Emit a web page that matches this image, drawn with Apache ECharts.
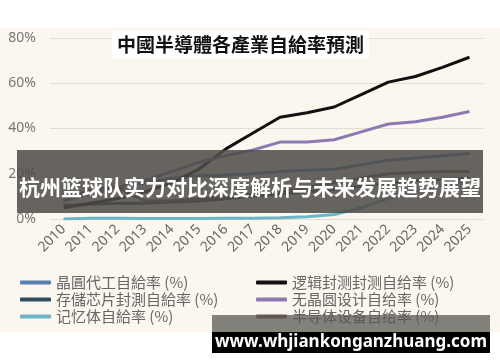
<!DOCTYPE html>
<html><head><meta charset="utf-8">
<script src="https://cdn.jsdelivr.net/npm/echarts@6/dist/echarts.min.js"></script>
<style>
html,body{margin:0;padding:0;background:#fff;}
#c{width:500px;height:362px;background:linear-gradient(to bottom,#fff 0,#fff 28px,#fbf7ef 28px,#fbf7ef 332px,#fff 332px);}
</style></head><body>
<div id="c"></div>
<script>
const years = ['2010','2011','2012','2013','2014','2015','2016','2017','2018','2019','2020','2021','2022','2023','2024','2025'];
const yTicks = [0, 20, 40, 60, 80];
const titleText = '中國半導體各產業自給率預測';
const bannerText = '杭州篮球队实力对比深度解析与未来发展趋势展望';
const watermarkText = 'www.whjiankonganzhuang.com';

const foundryName = '晶圓代工自給率 (%)';
const storagePkgName = '存儲芯片封測自給率 (%)';
const memoryName = '记忆体自給率 (%)';
const logicPkgName = '逻辑封测封测自给率 (%)';
const fablessName = '无晶圆设计自给率 (%)';
const equipName = '半导体设备自给率 (%)';

const foundry    = [10, 12, 14, 16, 18, 19, 19.5, 20, 21, 21.5, 22, 24, 26, 27, 28, 29];
const storagePkg = [6, 6.5, 7, 7, 7.5, 8, 9, 10, 11, 12, 13, 14.5, 16, 17, 17.5, 18];
const memory     = [0, 0.3, 0.3, 0.2, 0.2, 0.2, 0.3, 0.3, 0.5, 1, 2, 5, 9, 12, 15, 17];
const logicPkg   = [5, 7, 9, 12, 16, 22, 31, 38, 45, 47, 49.5, 55, 60.5, 63, 67, 71.5];
const fabless    = [8, 11, 14, 17, 21, 25, 28, 30.5, 34, 34, 35, 38.5, 42, 43, 45, 47.5];
const equipment  = [8, 13, 14, 8, 8, 9, 10, 11, 12, 14, 16, 18, 20, 20.5, 21, 21];

const colors = {
  foundry: '#5a7fae', storagePkg: '#2f4b5c', memory: '#6cb4c7',
  logicPkg: '#111111', fabless: '#8c7ab3', equipment: '#6f5a45'
};

function mk(name, data, color) {
  return { name, type: 'line', data, symbol: 'none', smooth: false,
    lineStyle: { width: 3, color }, itemStyle: { color } };
}

const chart = echarts.init(document.getElementById('c'), null, { renderer: 'canvas' });
const legendText = { color: '#666', fontSize: 15, fontFamily: 'Noto Sans CJK SC' };
chart.setOption({
  backgroundColor: 'transparent',
  animation: false,
  title: {
    text: titleText, left: 112, top: 31,
    backgroundColor: '#ffffff', padding: [4, 5],
    textStyle: { fontSize: 19, fontWeight: 'bold', color: '#111', fontFamily: 'Noto Sans CJK TC' }
  },
  grid: { left: 50, right: 17, top: 38, bottom: 143, containLabel: false },
  xAxis: {
    type: 'category', data: years, boundaryGap: true,
    axisLine: { show: false }, axisTick: { show: false },
    axisLabel: { rotate: 45, color: '#666', fontSize: 14, margin: 8, interval: 0, fontFamily: 'Noto Sans' }
  },
  yAxis: {
    type: 'value', min: yTicks[0], max: yTicks[yTicks.length - 1], interval: 20,
    axisLabel: { formatter: '{value}%', color: '#777', fontSize: 14, margin: 14, fontFamily: 'Noto Sans' },
    splitLine: { lineStyle: { color: '#e2ddd4', width: 1 } },
    axisLine: { show: false }, axisTick: { show: false }
  },
  legend: [
    { orient: 'vertical', left: 20, top: 275, itemWidth: 31, itemHeight: 4, itemGap: 2, padding: [0, 0],
      icon: 'roundRect', textStyle: legendText, data: [foundryName, storagePkgName, memoryName] },
    { orient: 'vertical', left: 256, top: 275, itemWidth: 31, itemHeight: 4, itemGap: 2, padding: [0, 0],
      icon: 'roundRect', textStyle: legendText, data: [logicPkgName, fablessName, equipName] }
  ],
  series: [
    mk(foundryName, foundry, colors.foundry),
    mk(storagePkgName, storagePkg, colors.storagePkg),
    mk(memoryName, memory, colors.memory),
    mk(logicPkgName, logicPkg, colors.logicPkg),
    mk(fablessName, fabless, colors.fabless),
    mk(equipName, equipment, colors.equipment)
  ],
  graphic: [
    { type: 'rect', z: 100, shape: { x: 17, y: 150, width: 466, height: 63 },
      style: { fill: 'rgba(78,76,72,0.86)' } },
    { type: 'text', z: 101, x: 250, y: 187,
      style: { text: bannerText, fill: '#fff', font: 'bold 21px "Noto Sans CJK SC"', textAlign: 'center', textVerticalAlign: 'middle' } },
    { type: 'rect', z: 100, shape: { x: 212, y: 315, width: 278, height: 17 },
      style: { fill: 'rgba(90,88,84,0.75)' } },
    { type: 'rect', z: 100, shape: { x: 212, y: 332, width: 278, height: 21 },
      style: { fill: '#000' } },
    { type: 'text', z: 101, x: 351, y: 342,
      style: { text: watermarkText, fill: '#fff', font: 'bold 17px "Noto Sans"', textAlign: 'center', textVerticalAlign: 'middle' } }
  ]
});
</script>
</body></html>
